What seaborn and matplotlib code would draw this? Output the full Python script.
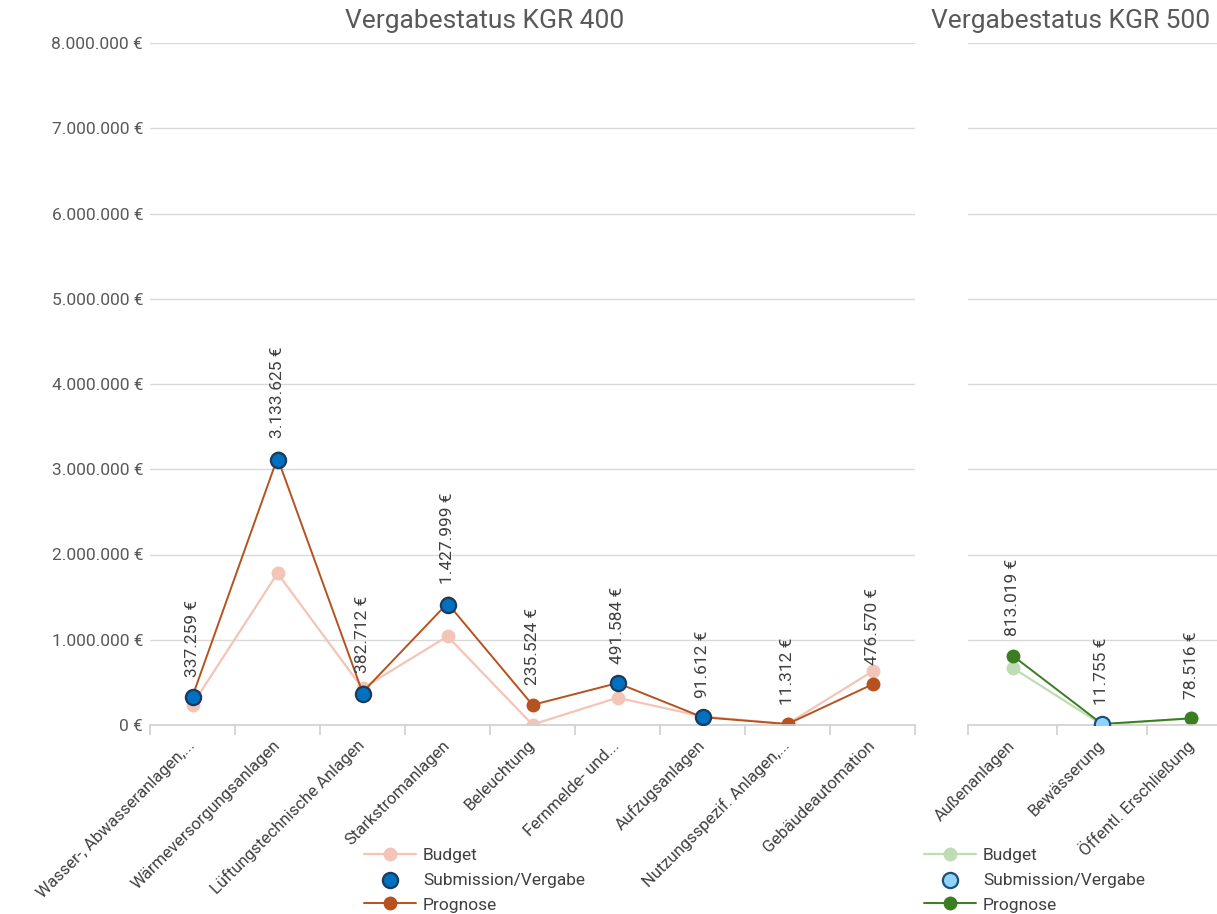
import numpy as np
import pandas as pd
import matplotlib
matplotlib.use("Agg")
import matplotlib.pyplot as plt
import seaborn as sns

# KGR 400
kgr400_cats = ["Wasser-, Abwasseranlagen,...", "Wärmeversorgungsanlagen", "Lüftungstechnische Anlagen",
               "Starkstromanlagen", "Beleuchtung", "Fernmelde- und...", "Aufzugsanlagen",
               "Nutzungsspezif. Anlagen,...", "Gebäudeautomation"]
kgr400_budget = [240000, 1780000, 430000, 1040000, 5000, 320000, 100000, 12000, 630000]
kgr400_submission = [330000, 3110000, 365000, 1410000, np.nan, 491584, 91612, np.nan, np.nan]
kgr400_prognose = [337259, 3133625, 382712, 1427999, 235524, 491584, 91612, 11312, 476570]

# KGR 500
kgr500_cats = ["Außenanlagen", "Bewässerung", "Öffentl. Erschließung"]
kgr500_budget = [670000, 5000, 78000]
kgr500_submission = [np.nan, 11755, np.nan]
kgr500_prognose = [813019, 11755, 78516]

sns.set_theme(style="white")
plt.rcParams["font.family"] = ["Roboto", "DejaVu Sans"]

W, H = 1217, 914
fig = plt.figure(figsize=(W / 100, H / 100), dpi=100)

y_bottom = 1 - 725 / H
y_height = (725 - 43) / H
ax1 = fig.add_axes([150 / W, y_bottom, 765 / W, y_height])
ax2 = fig.add_axes([968 / W, y_bottom, 268 / W, y_height])

txt = "#404040"
grid_c = "#d9d9d9"


def euro(v):
    return f"{v:,.0f} €".replace(",", ".")


def panel(ax, cats, budget, subm, prog, c_budget, c_prog, c_sub_face, c_sub_edge, show_y):
    df = pd.DataFrame({"pos": np.arange(len(cats)), "Budget": budget,
                       "Submission": subm, "Prognose": prog})
    sns.lineplot(data=df, x="pos", y="Budget", ax=ax, color=c_budget, marker="o",
                 markersize=10, markeredgewidth=0, linewidth=1.6, label="Budget")
    sns.lineplot(data=df, x="pos", y="Prognose", ax=ax, color=c_prog, marker="o",
                 markersize=10, markeredgewidth=0, linewidth=1.4, label="Prognose")
    sns.scatterplot(data=df.dropna(subset=["Submission"]), x="pos", y="Submission", ax=ax,
                    color=c_sub_face, edgecolor=c_sub_edge, linewidth=1.6, s=120,
                    zorder=5, label="Submission/Vergabe")
    for i, v in enumerate(prog):
        ax.annotate(euro(v), (i, v), xytext=(0, 14), textcoords="offset points",
                    rotation=90, ha="center", va="bottom", fontsize=12.5, color=txt)

    ax.set_xlim(-0.5, len(cats) - 0.5)
    ax.set_ylim(0, 8000000)
    ax.set_yticks(np.arange(0, 8000001, 1000000))
    ax.yaxis.grid(True, color=grid_c, linewidth=1)
    ax.xaxis.grid(False)
    ax.set_axisbelow(True)
    for s in ["left", "right", "top"]:
        ax.spines[s].set_visible(False)
    ax.spines["bottom"].set_color("#cfcfcf")
    ax.spines["bottom"].set_linewidth(1.2)

    ax.set_xticks(np.arange(len(cats)))
    ax.set_xticklabels(cats, rotation=45, ha="right", va="center",
                       rotation_mode="anchor", fontsize=12, color=txt)
    ax.set_xticks(np.arange(len(cats) + 1) - 0.5, minor=True)
    ax.tick_params(axis="x", which="major", length=0, pad=13)
    ax.tick_params(axis="x", which="minor", length=7, width=1.2, color="#cfcfcf", direction="out")
    ax.tick_params(axis="x", bottom=True, which="minor")

    if show_y:
        ax.set_yticklabels([euro(v) for v in ax.get_yticks()], fontsize=12.5, color="#595959")
        ax.tick_params(axis="y", length=0, pad=5)
    else:
        ax.set_yticklabels([])
        ax.tick_params(axis="y", length=0)
    ax.set_xlabel("")
    ax.set_ylabel("")

    h, l = ax.get_legend_handles_labels()
    order = [l.index("Budget"), l.index("Submission/Vergabe"), l.index("Prognose")]
    ax.legend([h[k] for k in order], [l[k] for k in order], loc="upper left",
              frameon=False, fontsize=12.5, labelcolor=txt, handlelength=3.0,
              handletextpad=0.4, labelspacing=0.55, borderpad=0, borderaxespad=0,
              scatterpoints=1, bbox_transform=fig.transFigure)
    return ax


panel(ax1, kgr400_cats, kgr400_budget, kgr400_submission, kgr400_prognose,
      "#f3c5b6", "#b5521f", "#0070c0", "#1c3a5e", True)
panel(ax2, kgr500_cats, kgr500_budget, kgr500_submission, kgr500_prognose,
      "#bfdcb4", "#3b7d23", "#8fd3fb", "#1f4e79", False)

ax1.get_legend().set_bbox_to_anchor((364 / W, 1 - 848 / H), transform=fig.transFigure)
ax2.get_legend().set_bbox_to_anchor((924 / W, 1 - 848 / H), transform=fig.transFigure)

fig.text(485 / W, 1 - 21 / H, "Vergabestatus KGR 400", ha="center", va="center",
         fontsize=19, color="#595959")
fig.text(931 / W, 1 - 21 / H, "Vergabestatus KGR 500", ha="left", va="center",
         fontsize=19, color="#595959")

fig.savefig("out.png", dpi=100)
